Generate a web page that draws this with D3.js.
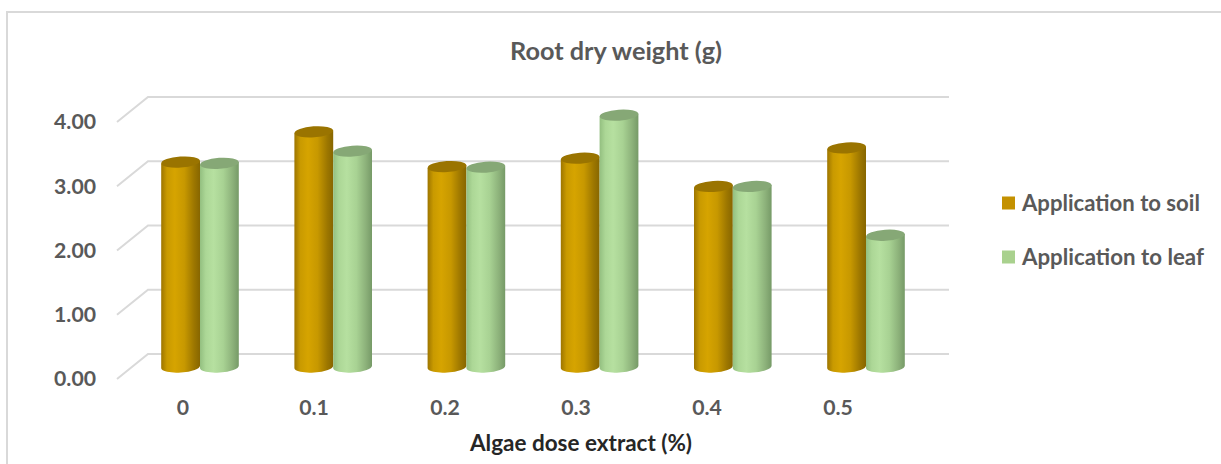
<!DOCTYPE html>
<html>
<head>
<meta charset="utf-8">
<script src="https://cdnjs.cloudflare.com/ajax/libs/d3/7.8.5/d3.min.js"></script>
<style>
  html, body { margin: 0; padding: 0; background: #fff; }
  svg { display: block; }
  text { font-family: Lato, "Open Sans", sans-serif; font-weight: bold; }
</style>
</head>
<body>
<svg id="chart" width="1221" height="464"></svg>
<script>
const categories = ["0", "0.1", "0.2", "0.3", "0.4", "0.5"];
const seriesNames = ["Application to soil", "Application to leaf"];
const soilValues = [3.19, 3.66, 3.12, 3.25, 2.81, 3.41];
const leafValues = [3.17, 3.36, 3.11, 3.92, 2.81, 2.05];
const yTicks = [0, 1, 2, 3, 4];
const titleText = "Root dry weight (g)";
const xTitleText = "Algae dose extract (%)";

const svg = d3.select("#chart");

// fit text to a target width by adjusting font-size
function fit(sel, target) {
  let size = null;
  sel.each(function () {
    const base = parseFloat(this.getAttribute("font-size"));
    const w = this.getComputedTextLength();
    if (w > 0) { size = base * target / w; this.setAttribute("font-size", size.toFixed(2)); }
  });
  return size;
}

// chart border (top + left)
svg.append("path")
  .attr("d", "M7,464 L7,12 L1221,12")
  .attr("fill", "none").attr("stroke", "#d9d9d9").attr("stroke-width", 2);

// scales
const yBack = d3.scaleLinear().domain([0, 4]).range([354, 97]);   // back wall
const yFront = d3.scaleLinear().domain([0, 4]).range([379, 122]); // front edge (labels)
const yBar = d3.scaleLinear().domain([0, 4]).range([367, 110]);   // bar depth
const xBand = d3.scaleBand().domain(categories).range([133.4, 932.6]).paddingInner(0);
const xSeries = d3.scaleBand().domain(seriesNames).range([-38.8, 38.8]).padding(0);
const xFront = d3.scalePoint().domain(categories).range([183, 838]);

const colors = {
  "Application to soil": { stops: ["#9d7500", "#c99a00", "#d6a400", "#c79800", "#9c7600", "#876600"], top: "#9a7400", legend: "#c49100" },
  "Application to leaf": { stops: ["#93bf80", "#acd796", "#b6e0a0", "#a8d293", "#8bb079", "#769a67"], top: "#86a876", legend: "#a9d18e" }
};

const defs = svg.append("defs");
seriesNames.forEach((s, si) => {
  const g = defs.append("linearGradient").attr("id", "grad" + si)
    .attr("x1", "0%").attr("x2", "100%").attr("y1", "0%").attr("y2", "0%");
  const offs = [0, 0.15, 0.35, 0.6, 0.85, 1];
  colors[s].stops.forEach((c, i) => g.append("stop").attr("offset", offs[i]).attr("stop-color", c));
});

// gridlines (back wall + side wall diagonals)
const grid = svg.append("g");
yTicks.forEach(t => {
  grid.append("path")
    .attr("d", `M117,${yFront(t)} L148,${yBack(t)} L949,${yBack(t)}`)
    .attr("fill", "none").attr("stroke", "#d9d9d9").attr("stroke-width", 2);
});

// y labels
const yl = svg.append("g").selectAll("text").data(yTicks).join("text")
  .attr("x", 96).attr("y", d => yFront(d)).attr("dy", "0.35em")
  .attr("text-anchor", "end").attr("font-size", 17).attr("fill", "#595959")
  .text(d => d3.format(".2f")(d));
const tickSize = fit(yl.filter(d => d === 4), 42);
yl.attr("font-size", tickSize.toFixed(2));

// bars (cylinders)
const data = categories.map((c, i) => ({ c, vals: [soilValues[i], leafValues[i]] }));
const bw = xSeries.bandwidth();
const rx = bw / 2, ry = 5.5, tilt = -4;
const barsG = svg.append("g");
data.forEach(d => {
  seriesNames.forEach((s, si) => {
    const cx = xBand(d.c) + xBand.bandwidth() / 2 + xSeries(s) + bw / 2;
    const x0 = cx - rx, x1 = cx + rx;
    const yb = yBar(0), yt = yBar(d.vals[si]);
    const dy = rx * Math.tan(-tilt * Math.PI / 180);
    const g = barsG.append("g");
    g.append("path")
      .attr("d", `M${x0},${yt + dy} L${x0},${yb + dy} A${rx},${ry} ${tilt} 0 0 ${x1},${yb - dy} L${x1},${yt - dy} Z`)
      .attr("fill", `url(#grad${si})`);
    g.append("ellipse")
      .attr("cx", cx).attr("cy", yt).attr("rx", rx).attr("ry", ry)
      .attr("transform", `rotate(${tilt},${cx},${yt})`)
      .attr("fill", colors[s].top);
  });
});

// x labels
svg.append("g").selectAll("text").data(categories).join("text")
  .attr("x", d => xFront(d)).attr("y", 408).attr("dy", "0.35em")
  .attr("text-anchor", "middle").attr("font-size", tickSize.toFixed(2)).attr("fill", "#595959")
  .text(d => d);

// x title
const xt = svg.append("text").attr("x", 581).attr("y", 443).attr("dy", "0.35em")
  .attr("text-anchor", "middle").attr("font-size", 17).attr("fill", "#262626")
  .text(xTitleText);
fit(xt, 222);

// title
const tt = svg.append("text").attr("x", 616).attr("y", 51).attr("dy", "0.35em")
  .attr("text-anchor", "middle").attr("font-size", 19).attr("fill", "#595959")
  .text(titleText);
fit(tt, 212);

// legend
const leg = svg.append("g");
const legY = [203, 257];
seriesNames.forEach((s, i) => {
  leg.append("rect").attr("x", 1002).attr("y", legY[i] - 6.5).attr("width", 13).attr("height", 13)
    .attr("fill", colors[s].legend);
  const t = leg.append("text").attr("x", 1022).attr("y", legY[i]).attr("dy", "0.35em")
    .attr("font-size", 17).attr("fill", "#595959").text(s);
  fit(t, i === 0 ? 178 : 182);
});
</script>
</body>
</html>
